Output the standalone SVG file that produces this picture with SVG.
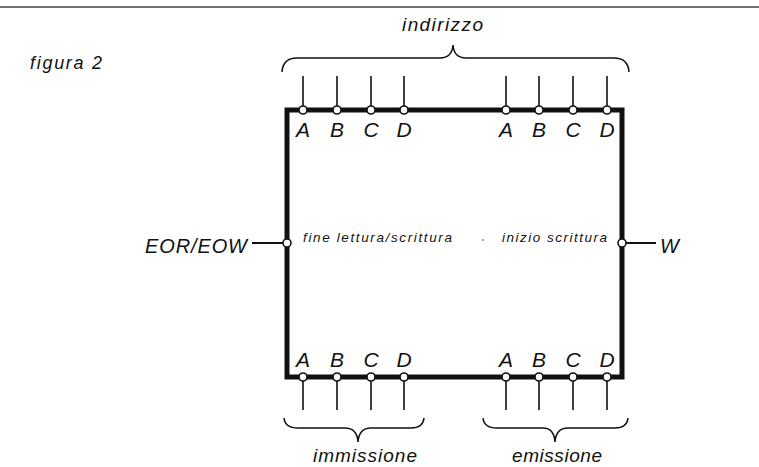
<svg xmlns="http://www.w3.org/2000/svg" width="759" height="467" viewBox="0 0 759 467">
<style>
.t{font-family:"Liberation Sans",Arial,sans-serif;font-style:italic;fill:#111}
.pin{stroke:#111;stroke-width:1.6}
.pc{fill:#fff;stroke:#111;stroke-width:1.6}
.br{fill:none;stroke:#111;stroke-width:1.5}
.abcd{font-size:21px;text-anchor:middle}
</style>
<rect width="759" height="467" fill="#fff"/>
<line x1="0" y1="7" x2="759" y2="7" stroke="#444" stroke-width="1.5"/>
<text class="t" x="30" y="69" font-size="18" textLength="72" lengthAdjust="spacing">figura 2</text>

<g id="connectors">
  <g class="pin">
    <line x1="303" y1="76" x2="303" y2="110"/><line x1="337" y1="76" x2="337" y2="110"/>
    <line x1="371" y1="76" x2="371" y2="110"/><line x1="404" y1="76" x2="404" y2="110"/>
    <line x1="506" y1="76" x2="506" y2="110"/><line x1="539" y1="76" x2="539" y2="110"/>
    <line x1="573" y1="76" x2="573" y2="110"/><line x1="607" y1="76" x2="607" y2="110"/>
    <line x1="303" y1="377" x2="303" y2="410"/><line x1="337" y1="377" x2="337" y2="410"/>
    <line x1="371" y1="377" x2="371" y2="410"/><line x1="404" y1="377" x2="404" y2="410"/>
    <line x1="506" y1="377" x2="506" y2="410"/><line x1="539" y1="377" x2="539" y2="410"/>
    <line x1="573" y1="377" x2="573" y2="410"/><line x1="607" y1="377" x2="607" y2="410"/>
    <line x1="252" y1="243" x2="287" y2="243" stroke-width="1.8"/>
    <line x1="622" y1="243" x2="656" y2="243" stroke-width="1.8"/>
  </g>
  <path class="br" d="M282,72 Q283,58 297,58 L440,58 Q452,58 453,45 Q454,58 466,58 L614,58 Q628,58 629,72"/>
  <path class="br" d="M284,418 Q285,428 298,428 L345,428 Q357,428 358,442 Q359,428 371,428 L411,428 Q423,428 424,418"/>
  <path class="br" d="M483,418 Q484,428 497,428 L543,428 Q554,428 555,442 Q556,428 568,428 L615,428 Q627,428 628,418"/>
</g>

<g id="box">
  <rect x="287" y="110" width="335" height="267" fill="none" stroke="#111" stroke-width="5"/>
  <g class="pc">
    <circle cx="303" cy="110" r="4"/><circle cx="337" cy="110" r="4"/><circle cx="371" cy="110" r="4"/><circle cx="404" cy="110" r="4"/>
    <circle cx="506" cy="110" r="4"/><circle cx="539" cy="110" r="4"/><circle cx="573" cy="110" r="4"/><circle cx="607" cy="110" r="4"/>
    <circle cx="303" cy="377" r="4"/><circle cx="337" cy="377" r="4"/><circle cx="371" cy="377" r="4"/><circle cx="404" cy="377" r="4"/>
    <circle cx="506" cy="377" r="4"/><circle cx="539" cy="377" r="4"/><circle cx="573" cy="377" r="4"/><circle cx="607" cy="377" r="4"/>
    <circle cx="287" cy="243" r="4"/><circle cx="622" cy="243" r="4"/>
  </g>
  <g class="t abcd">
    <text x="303" y="137">A</text><text x="337" y="137">B</text><text x="371" y="137">C</text><text x="404" y="137">D</text>
    <text x="506" y="137">A</text><text x="539" y="137">B</text><text x="573" y="137">C</text><text x="607" y="137">D</text>
    <text x="303" y="367">A</text><text x="337" y="367">B</text><text x="371" y="367">C</text><text x="404" y="367">D</text>
    <text x="506" y="367">A</text><text x="539" y="367">B</text><text x="573" y="367">C</text><text x="607" y="367">D</text>
  </g>
  <text class="t" x="303" y="242" font-size="13.5" textLength="149" lengthAdjust="spacing">fine lettura/scrittura</text>
  <circle cx="483" cy="240" r="0.8" fill="#333"/>
  <text class="t" x="502" y="242" font-size="13.5" textLength="105" lengthAdjust="spacing">inizio scrittura</text>
</g>

<g id="label-indirizzo"><text class="t" x="402" y="31" font-size="19" textLength="81" lengthAdjust="spacing">indirizzo</text></g>
<g id="label-immissione"><text class="t" x="313" y="462" font-size="19" textLength="104" lengthAdjust="spacing">immissione</text></g>
<g id="label-emissione"><text class="t" x="512" y="462" font-size="19" textLength="90" lengthAdjust="spacing">emissione</text></g>
<g id="label-eor"><text class="t" x="145" y="253" font-size="20" textLength="102" lengthAdjust="spacing">EOR/EOW</text></g>
<g id="label-w"><text class="t" x="660" y="253" font-size="20">W</text></g>
</svg>
